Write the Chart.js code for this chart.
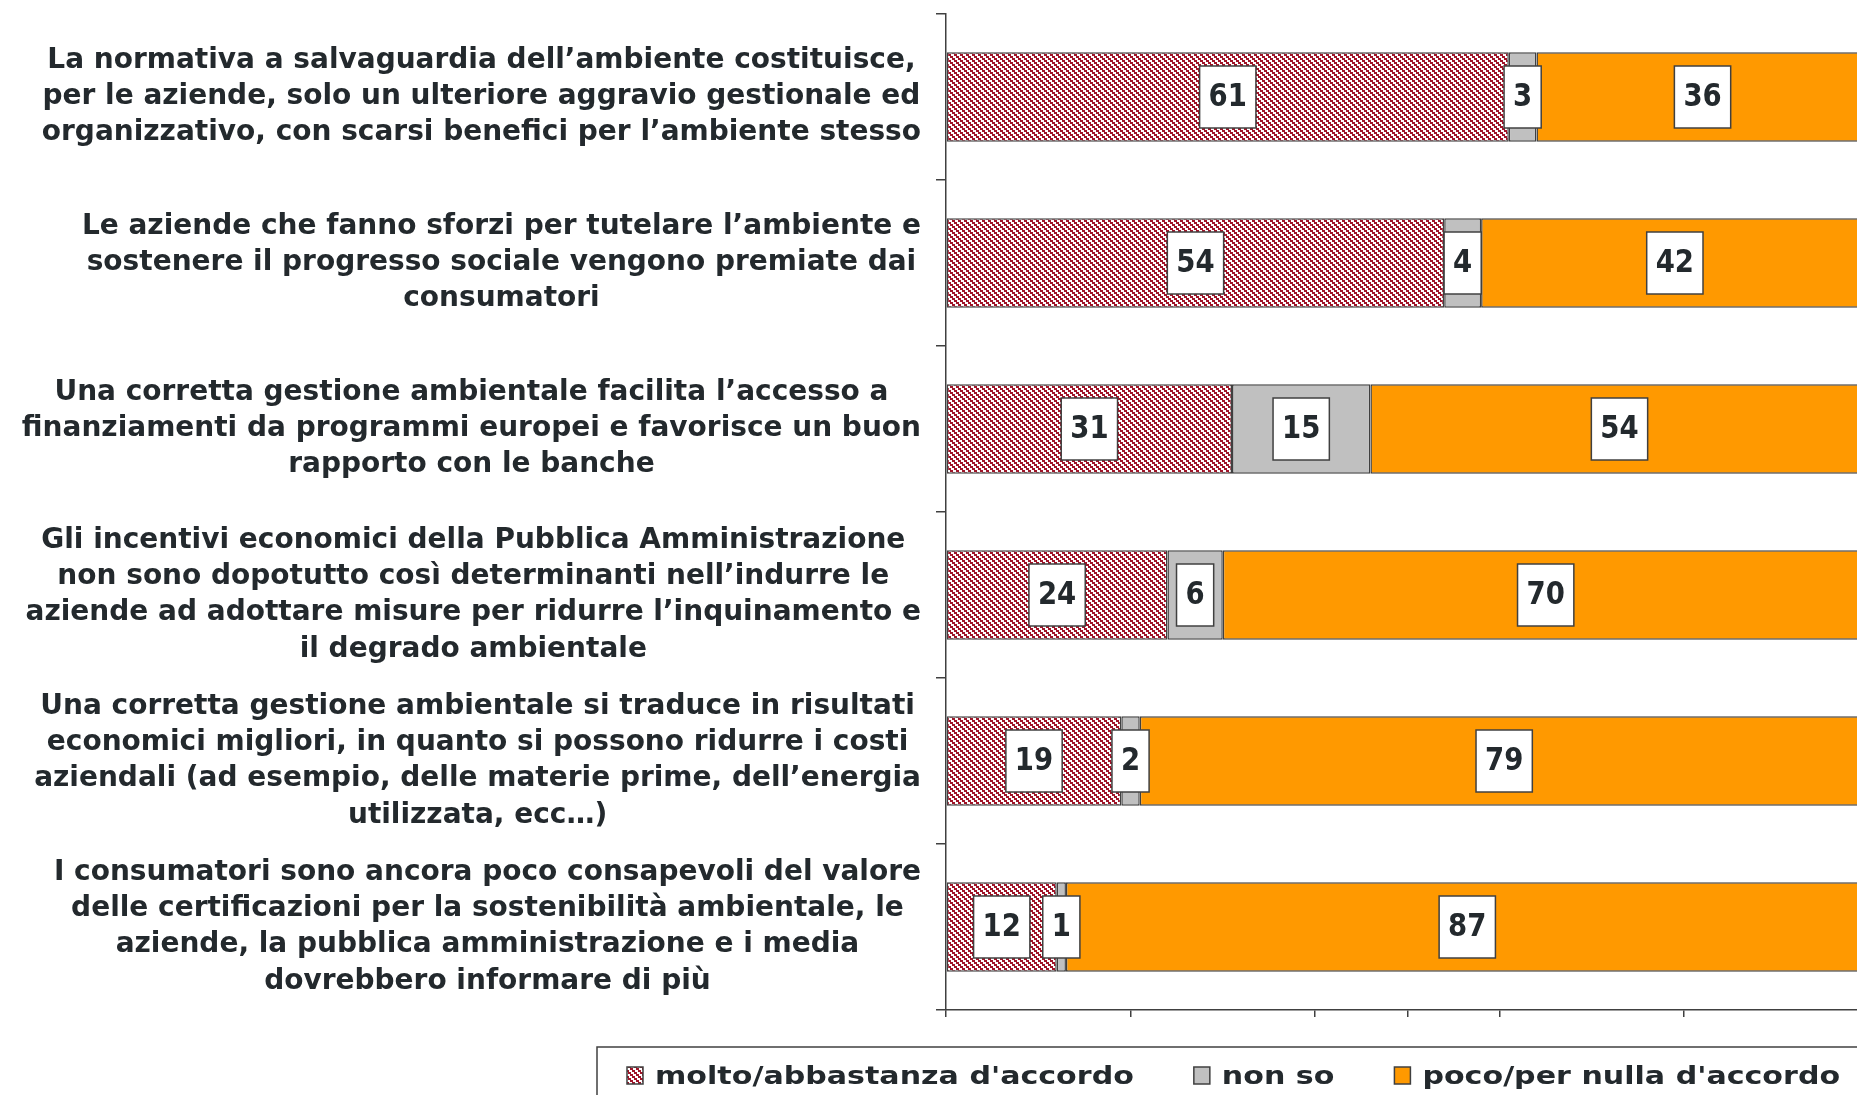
<!DOCTYPE html>
<html>
<head>
<meta charset="utf-8">
<script src="https://cdn.jsdelivr.net/npm/chart.js@4.4.1/dist/chart.umd.min.js"></script>
<style>
  html, body { margin: 0; padding: 0; background: #fff; overflow: hidden; }
  #wrap { position: absolute; left: 0; top: 0; width: 1880px; height: 1095px; }
</style>
</head>
<body>
<div id="wrap"><canvas id="grafico" width="1880" height="1095"></canvas></div>
<script>
const categorie = [
    ['La normativa a salvaguardia dell’ambiente costituisce,', 'per le aziende, solo un ulteriore aggravio gestionale ed', 'organizzativo, con scarsi benefici per l’ambiente stesso'],
    ['Le aziende che fanno sforzi per tutelare l’ambiente e', 'sostenere il progresso sociale vengono premiate dai', 'consumatori'],
    ['Una corretta gestione ambientale facilita l’accesso a', 'finanziamenti da programmi europei e favorisce un buon', 'rapporto con le banche'],
    ['Gli incentivi economici della Pubblica Amministrazione', 'non sono dopotutto così determinanti nell’indurre le', 'aziende ad adottare misure per ridurre l’inquinamento e', 'il degrado ambientale'],
    ['Una corretta gestione ambientale si traduce in risultati', 'economici migliori, in quanto si possono ridurre i costi', 'aziendali (ad esempio, delle materie prime, dell’energia', 'utilizzata, ecc…)'],
    ['I consumatori sono ancora poco consapevoli del valore', 'delle certificazioni per la sostenibilità ambientale, le', 'aziende, la pubblica amministrazione e i media', 'dovrebbero informare di più']
];
const serieNomi = ['molto/abbastanza d\'accordo', 'non so', 'poco/per nulla d\'accordo'];
const accordo = [61, 54, 31, 24, 19, 12];
const nonSo = [3, 4, 15, 6, 2, 1];
const disaccordo = [36, 42, 54, 70, 79, 87];
const xTicks = [0, 20, 40, 50, 60, 80, 100];

const ctx = document.getElementById('grafico');
const c2d = ctx.getContext('2d');

const ROSSO = '#a01428';
const BORDO = '#404040';
const TESTO = '#23292d';
const FONT = '"DejaVu Sans", Verdana, sans-serif';

// trama a righe diagonali (\), passo 6px, gradini da 2px
const tratteggio = () => {
    const p = document.createElement('canvas');
    p.width = 6; p.height = 6;
    const g = p.getContext('2d');
    g.fillStyle = '#fff';
    g.fillRect(0, 0, 6, 6);
    g.fillStyle = ROSSO;
    for (let y = 0; y < 6; y++) {
        for (let x = 0; x < 6; x++) {
            const k = ((x - 2 * (y >> 1)) % 6 + 6) % 6;
            if (k < 3) g.fillRect(x, y, 1, 1);
        }
    }
    return c2d.createPattern(p, 'repeat');
};

// etichette categorie: blocco allineato a destra, righe centrate
const etichetteY = {
    id: 'etichetteY',
    afterDraw(chart) {
        const g = chart.ctx;
        const yScale = chart.scales.y;
        g.save();
        g.font = 'bold 28px ' + FONT;
        g.fillStyle = TESTO;
        g.textAlign = 'center';
        g.textBaseline = 'middle';
        categorie.forEach((righe, i) => {
            const maxW = Math.max(...righe.map(r => g.measureText(r).width));
            const cx = 921 - maxW / 2;
            const cy = yScale.getPixelForValue(i);
            righe.forEach((r, j) => {
                g.fillText(r, cx, cy + (j - (righe.length - 1) / 2) * 36.2);
            });
        });
        g.restore();
    }
};

// valori dentro riquadri bianchi
const valori = {
    id: 'valori',
    afterDatasetsDraw(chart) {
        const g = chart.ctx;
        const sx = 0.86;
        g.save();
        g.font = 'bold 32px ' + FONT;
        g.textAlign = 'center';
        g.textBaseline = 'middle';
        chart.data.datasets.forEach((ds, di) => {
            chart.getDatasetMeta(di).data.forEach((bar, i) => {
                const testo = String(ds.data[i]);
                const cx = (bar.x + bar.base) / 2;
                const w = g.measureText(testo).width * sx + 18;
                const h = 62;
                g.fillStyle = '#fff';
                g.fillRect(cx - w / 2, bar.y - h / 2, w, h);
                g.lineWidth = 1.5;
                g.strokeStyle = BORDO;
                g.strokeRect(cx - w / 2, bar.y - h / 2, w, h);
                g.save();
                g.translate(cx, bar.y + 1);
                g.scale(sx, 1);
                g.fillStyle = TESTO;
                g.fillText(testo, 0, 0);
                g.restore();
            });
        });
        g.restore();
    }
};

// legenda in basso con cornice
const legenda = {
    id: 'legenda',
    afterDraw(chart) {
        const g = chart.ctx;
        const sx = 1.18;
        g.save();
        g.lineWidth = 1.5;
        g.strokeStyle = BORDO;
        g.strokeRect(597, 1047, 1400, 100);
        g.font = 'bold 25.5px ' + FONT;
        g.textBaseline = 'alphabetic';
        let x = 627;
        const base = 1084;
        chart.data.datasets.forEach((ds) => {
            g.fillStyle = ds.backgroundColor;
            g.fillRect(x, 1067, 16, 17);
            g.lineWidth = 1.5;
            g.strokeStyle = BORDO;
            g.strokeRect(x, 1067, 16, 17);
            g.save();
            g.translate(x + 28, base);
            g.scale(sx, 1);
            g.fillStyle = TESTO;
            g.fillText(ds.label, 0, 0);
            g.restore();
            x += 28 + g.measureText(ds.label).width * sx + 60;
        });
        g.restore();
    }
};

const grafico = new Chart(ctx, {
    type: 'bar',
    data: {
        labels: categorie.map(r => r.join(' ')),
        datasets: [
            { label: serieNomi[0], data: accordo, backgroundColor: tratteggio() },
            { label: serieNomi[1], data: nonSo, backgroundColor: '#c0c0c0' },
            { label: serieNomi[2], data: disaccordo, backgroundColor: '#ff9900' }
        ]
    },
    options: {
        indexAxis: 'y',
        responsive: false,
        animation: false,
        devicePixelRatio: 1,
        layout: { padding: { top: 14, right: 11.4, left: 0, bottom: 0 } },
        datasets: {
            bar: {
                categoryPercentage: 1,
                barPercentage: 0.54,
                borderColor: BORDO,
                borderWidth: 1.5,
                borderSkipped: false
            }
        },
        plugins: {
            legend: { display: false },
            tooltip: { enabled: false }
        },
        scales: {
            x: {
                stacked: true,
                min: 0,
                max: 100,
                afterBuildTicks: s => { s.ticks = xTicks.map(v => ({ value: v })); },
                afterFit: s => { s.height = 85; },
                ticks: { display: false },
                grid: { drawOnChartArea: false, drawTicks: true, tickLength: 7, color: BORDO, lineWidth: 1.5 },
                border: { color: BORDO, width: 1.5 }
            },
            y: {
                stacked: true,
                afterFit: s => { s.width = 946; },
                ticks: { display: false },
                grid: { drawOnChartArea: false, drawTicks: true, tickLength: 10, color: BORDO, lineWidth: 1.5, offset: true },
                border: { color: BORDO, width: 1.5 }
            }
        }
    },
    plugins: [etichetteY, valori, legenda]
});
</script>
</body>
</html>
